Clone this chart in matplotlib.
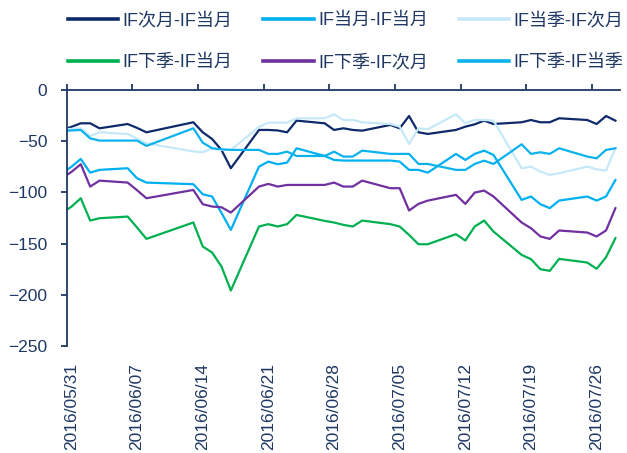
import matplotlib
matplotlib.use("Agg")
import matplotlib.pyplot as plt
import numpy as np
import pandas as pd

plt.rcParams['font.family'] = ['Liberation Sans', 'Noto Sans CJK SC', 'DejaVu Sans']

# trading days (05/30 lies left of the axis start and is clipped)
dates = ['2016-05-30', '2016-05-31', '2016-06-01', '2016-06-02', '2016-06-03',
         '2016-06-06', '2016-06-07', '2016-06-08', '2016-06-13', '2016-06-14',
         '2016-06-15', '2016-06-16', '2016-06-17', '2016-06-20', '2016-06-21',
         '2016-06-22', '2016-06-23', '2016-06-24', '2016-06-27', '2016-06-28',
         '2016-06-29', '2016-06-30', '2016-07-01', '2016-07-04', '2016-07-05',
         '2016-07-06', '2016-07-07', '2016-07-08', '2016-07-11', '2016-07-12',
         '2016-07-13', '2016-07-14', '2016-07-15', '2016-07-18', '2016-07-19',
         '2016-07-20', '2016-07-21', '2016-07-22', '2016-07-25', '2016-07-26',
         '2016-07-27', '2016-07-28']

ci_dy = [-39, -36, -32.5, -32.5, -37.4, -33.2, -37, -41.3, -31.5, -41.3,
         -47.8, -58.5, -76.4, -39, -39, -39.5, -41.3, -29.9, -32.5, -39,
         -37.4, -39, -39.7, -34.1, -37.4, -25.4, -41.3, -42.9, -39, -35.8,
         -33.5, -29.9, -33.2, -31.5, -29.3, -31.5, -31.5, -27.6, -29.3, -33.2,
         -25.4, -29.9]
dj_dy = [-81, -75, -67.3, -80.7, -78, -76.4, -86.2, -90.4, -92, -101.8,
         -104, -120, -136.6, -74.8, -69.9, -72.5, -70.9, -56.9, -64.4, -68.3,
         -68.9, -68.9, -68.9, -68.9, -69.9, -78, -78, -80.7, -62.4, -68.3,
         -62.4, -59.2, -63.4, -107.3, -104, -111.5, -115.4, -108, -104, -108,
         -104, -87.8]
dj_ci = [-38.5, -38, -37.4, -45, -41.3, -43, -47.5, -52, -60, -60.8,
         -57, -58.5, -58.5, -36, -31.9, -31.9, -31.9, -27.6, -27.6, -23.7,
         -29.3, -29.3, -31.5, -33.2, -35.8, -52.7, -37.4, -38.4, -23.7, -32.5,
         -29.3, -29.3, -29.9, -76.4, -74.8, -79.7, -82.9, -81.3, -74.8, -77.4,
         -78.7, -56.9]
xj_dy = [-120, -114, -105.7, -127.5, -125.2, -123.6, -134.3, -145.4, -129.4, -152.8,
         -158.7, -172.4, -195.8, -133.3, -131, -133.3, -131, -122, -127.8, -129.4,
         -131.7, -133.3, -127.5, -131, -133.3, -141.5, -150.6, -150.6, -140.8, -147,
         -133.3, -127.5, -138.2, -161, -165.2, -175, -176.6, -164.9, -168.5, -174.6,
         -163.3, -144.7]
xj_ci = [-86, -80, -72.5, -94.3, -88.5, -90.4, -97.9, -105.7, -97.6, -111.5,
         -113.8, -114.5, -119.7, -94.3, -91.7, -94.3, -92.7, -92.7, -92.7, -90.4,
         -94.3, -94.3, -88.5, -95.9, -95.9, -117.7, -111.2, -108, -102.4, -111.2,
         -100.2, -98.2, -104, -129.4, -135, -143, -145.4, -137.2, -139.2, -143,
         -137.2, -115.4]
xj_dj = [-40, -39.5, -39, -47.2, -49.4, -49.4, -49.4, -54.6, -37.4, -51.4,
         -56.9, -57.9, -58.5, -58.5, -62.4, -62.4, -60.2, -64.4, -64.4, -60.2,
         -65, -65, -59.2, -62.4, -62.4, -62.4, -72.2, -72.2, -78, -78,
         -72.2, -69, -72.2, -53, -62.4, -60.8, -62.4, -56.9, -65, -66.7,
         -58.5, -56.9]

labels = ['IF次月-IF当月', 'IF当月-IF当月', 'IF当季-IF次月',
          'IF下季-IF当月', 'IF下季-IF次月', 'IF下季-IF当季']
series = [ci_dy, dj_dy, dj_ci, xj_dy, xj_ci, xj_dj]
colors = ['#0E2A6B', '#00B0F0', '#C6E9FA', '#00B050', '#7030A0', '#0CB2EE']

tick_dates = ['2016-05-31', '2016-06-07', '2016-06-14', '2016-06-21', '2016-06-28',
              '2016-07-05', '2016-07-12', '2016-07-19', '2016-07-26']

txt = '#1F3864'
x = pd.to_datetime(dates) + pd.Timedelta(hours=12)

fig = plt.figure(figsize=(6.27, 4.53), dpi=100)
ax = fig.add_axes([0.1064, 0.2362, 0.8826, 0.5651])

lines = []
for vals, lab, c in zip(series, labels, colors):
    ln, = ax.plot(x, vals, color=c, lw=1.6, label=lab)
    lines.append(ln)

ax.set_ylim(-250, 0)
ax.set_xlim(pd.Timestamp('2016-05-31'), pd.Timestamp('2016-07-29'))
ax.set_yticks(np.arange(-250, 1, 50))

# major ticks (midnight) on top spine, labels on minor ticks (noon) at the bottom
tk = pd.to_datetime(tick_dates)
ax.set_xticks(tk)
ax.set_xticklabels([])
ax.set_xticks(tk + pd.Timedelta(hours=12), minor=True)
ax.set_xticklabels([d.strftime('%Y/%m/%d') for d in tk], minor=True, rotation=90)
ax.tick_params(axis='x', which='major', top=True, bottom=False, labelbottom=False,
               direction='out', length=4, width=1.3, color=txt)
ax.tick_params(axis='x', which='minor', top=False, bottom=True, length=0,
               labelbottom=True, pad=12, labelsize=12.5, labelcolor=txt)
ax.tick_params(axis='y', direction='out', length=4, width=1.3, color=txt,
               labelsize=12.5, labelcolor=txt, pad=10)

for s in ['right', 'bottom']:
    ax.spines[s].set_visible(False)
for s in ['left', 'top']:
    ax.spines[s].set_color(txt)
    ax.spines[s].set_linewidth(1.3)

order = [0, 3, 1, 4, 2, 5]
leg = fig.legend([lines[i] for i in order], [labels[i] for i in order],
                 ncol=3, loc='upper left', bbox_to_anchor=(0.1085, 0.973),
                 frameon=False, fontsize=13, handlelength=2.77, handletextpad=0.25,
                 columnspacing=1.72, labelspacing=1.39, labelcolor=txt,
                 borderpad=0, borderaxespad=0)
for h in leg.legend_handles:
    h.set_linewidth(2.6)

fig.savefig('out.png', dpi=100)
